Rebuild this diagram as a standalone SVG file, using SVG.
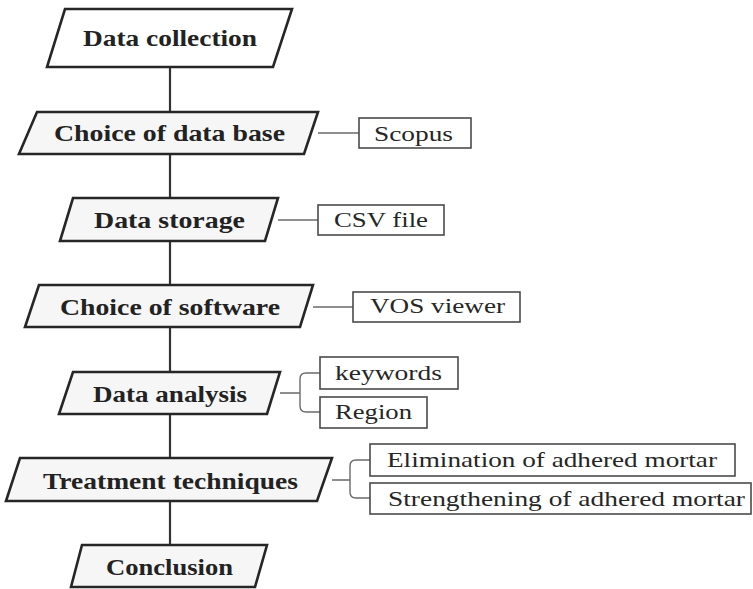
<svg xmlns="http://www.w3.org/2000/svg" width="753" height="589" viewBox="0 0 753 589">
  <style>
    .step { fill: #f6f6f6; stroke: #262626; stroke-width: 2.6; stroke-linejoin: miter; }
    .step.first { fill: #ffffff; }
    .item { fill: #ffffff; stroke: #4a4a4a; stroke-width: 1.6; }
    .main { font-family: "Liberation Serif", serif; font-weight: bold; font-size: 23px; fill: #222222; }
    .sub { font-family: "Liberation Serif", serif; font-size: 22px; fill: #262626; }
    .flow { stroke: #333333; stroke-width: 2.2; fill: none; }
    .link { stroke: #6a6a6a; stroke-width: 1.4; fill: none; }
  </style>

  <rect width="753" height="589" fill="#ffffff"/>

  <!-- connectors -->
  <g id="connectors">
    <line class="flow" x1="170" y1="67" x2="170" y2="112"/>
    <line class="flow" x1="170" y1="154" x2="170" y2="198"/>
    <line class="flow" x1="170" y1="241" x2="170" y2="285"/>
    <line class="flow" x1="170" y1="327" x2="170" y2="372"/>
    <line class="flow" x1="170" y1="414" x2="170" y2="458"/>
    <line class="flow" x1="170" y1="501" x2="170" y2="545"/>

    <line class="link" x1="318" y1="133" x2="359" y2="133"/>
    <line class="link" x1="278" y1="220" x2="318" y2="220"/>
    <line class="link" x1="313" y1="307" x2="353" y2="307"/>

    <path class="link" d="M280 393 H300 M320 373 H306 Q300 373 300 379 V406 Q300 412 306 412 H320"/>
    <path class="link" d="M332 480 H350 M370 460 H356 Q350 460 350 466 V492 Q350 498 356 498 H370"/>
  </g>

  <!-- main steps -->
  <g id="data-collection">
    <polygon class="step first" points="65,9 292,9 273,67 47,67"/>
    <text class="main" x="83" y="46" textLength="174" lengthAdjust="spacingAndGlyphs">Data collection</text>
  </g>
  <g id="choice-of-data-base">
    <polygon class="step" points="37,112 318,112 304,154 19,154"/>
    <text class="main" x="54" y="141" textLength="231" lengthAdjust="spacingAndGlyphs">Choice of data base</text>
  </g>
  <g id="data-storage">
    <polygon class="step" points="73,198 278,198 265,241 60,241"/>
    <text class="main" x="94" y="228" textLength="151" lengthAdjust="spacingAndGlyphs">Data storage</text>
  </g>
  <g id="choice-of-software">
    <polygon class="step" points="39,285 313,285 300,327 25,327"/>
    <text class="main" x="60" y="315" textLength="220" lengthAdjust="spacingAndGlyphs">Choice of software</text>
  </g>
  <g id="data-analysis">
    <polygon class="step" points="73,372 280,372 267,414 59,414"/>
    <text class="main" x="93" y="402" textLength="154" lengthAdjust="spacingAndGlyphs">Data analysis</text>
  </g>
  <g id="treatment-techniques">
    <polygon class="step" points="20,458 332,458 317,501 6,501"/>
    <text class="main" x="43" y="489" textLength="255" lengthAdjust="spacingAndGlyphs">Treatment techniques</text>
  </g>
  <g id="conclusion">
    <polygon class="step" points="82,545 267,545 255,587 71,587"/>
    <text class="main" x="106" y="575" textLength="127" lengthAdjust="spacingAndGlyphs">Conclusion</text>
  </g>

  <!-- side items -->
  <g id="scopus">
    <rect class="item" x="359" y="118" width="112" height="30"/>
    <text class="sub" x="374" y="141" textLength="79" lengthAdjust="spacingAndGlyphs">Scopus</text>
  </g>
  <g id="csv-file">
    <rect class="item" x="318" y="205" width="126" height="30"/>
    <text class="sub" x="334" y="227" textLength="94" lengthAdjust="spacingAndGlyphs">CSV file</text>
  </g>
  <g id="vos-viewer">
    <rect class="item" x="353" y="292" width="167" height="30"/>
    <text class="sub" x="370" y="313" textLength="135" lengthAdjust="spacingAndGlyphs">VOS viewer</text>
  </g>
  <g id="keywords">
    <rect class="item" x="320" y="357" width="138" height="32"/>
    <text class="sub" x="335" y="380" textLength="107" lengthAdjust="spacingAndGlyphs">keywords</text>
  </g>
  <g id="region">
    <rect class="item" x="320" y="397" width="107" height="31"/>
    <text class="sub" x="335" y="419" textLength="77" lengthAdjust="spacingAndGlyphs">Region</text>
  </g>
  <g id="elimination">
    <rect class="item" x="370" y="444" width="365" height="32"/>
    <text class="sub" x="387" y="467" textLength="330" lengthAdjust="spacingAndGlyphs">Elimination of adhered mortar</text>
  </g>
  <g id="strengthening">
    <rect class="item" x="370" y="483" width="381" height="31"/>
    <text class="sub" x="388" y="506" textLength="357" lengthAdjust="spacingAndGlyphs">Strengthening of adhered mortar</text>
  </g>
</svg>
